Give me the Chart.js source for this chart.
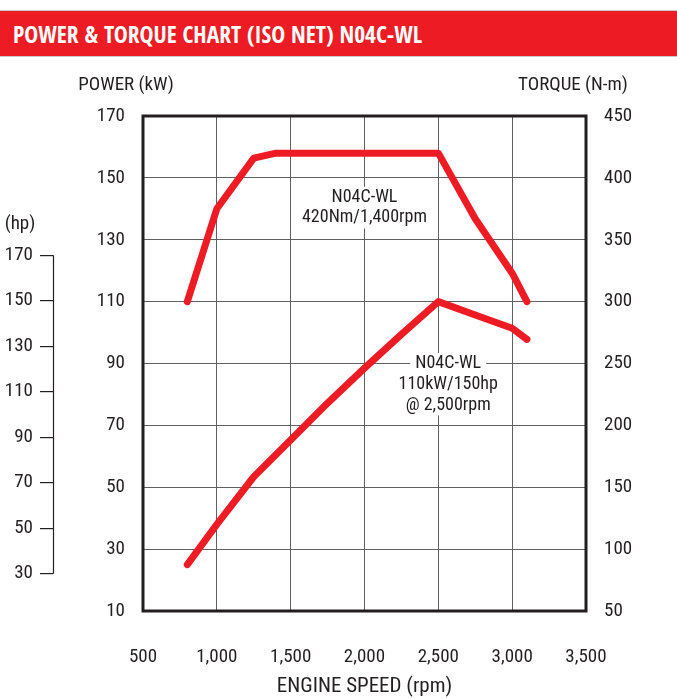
<!DOCTYPE html>
<html>
<head>
<meta charset="utf-8">
<script src="https://cdn.jsdelivr.net/npm/chart.js@4/dist/chart.umd.min.js"></script>
<style>
  html, body { margin: 0; padding: 0; background: #fff; }
  #wrap { position: relative; width: 677px; height: 699px; overflow: hidden; }
  #chart { position: absolute; left: 0; top: 0; }
  #header {
    position: absolute; left: 0; top: 10px; width: 677px; height: 47px;
    background: #ed1c24; border-top: 1px solid #c9c9c9; border-bottom: 1px solid #c9c9c9;
    color: #fff; font-family: 'Open Sans Condensed', 'Open Sans', sans-serif; font-stretch: 75%;
    font-weight: bold; font-size: 23.5px; line-height: 46px; padding-left: 13px; box-sizing: border-box;
    white-space: nowrap; z-index: 2;
  }
</style>
</head>
<body>
<div id="wrap">
  <canvas id="chart" width="677" height="699"></canvas>
  <div id="header">POWER &amp; TORQUE CHART (ISO NET) N04C-WL</div>
</div>
<script>
// ---- data ----
const torqueRpm = [800, 1000, 1250, 1400, 2500, 2750, 3000, 3100];
const torqueNm  = [300, 375, 416, 420, 420, 367, 323, 300];

const powerRpm = [800, 1000, 1250, 1500, 1750, 2000, 2250, 2500, 2750, 3000, 3100];
const powerKw  = [25, 38, 53.4, 65.3, 77.2, 88.5, 99.4, 110, 105.7, 101.4, 97.8];

const rpmTicks    = [500, 1000, 1500, 2000, 2500, 3000, 3500];
const kwTicks     = [10, 30, 50, 70, 90, 110, 130, 150, 170];
const torqueTicks = [50, 100, 150, 200, 250, 300, 350, 400, 450];
const hpTicks     = [30, 50, 70, 90, 110, 130, 150, 170];
const KW_TO_HP = 1.36;

const torqueNote = { rpm: 2000, nm: 376, lines: ['N04C-WL', '420Nm/1,400rpm'] };
const powerNote  = { rpm: 2567, kw: 83.3, lines: ['N04C-WL', '110kW/150hp', '@ 2,500rpm'] };

// ---- styles ----
const FONT = "'Roboto Condensed', 'Liberation Sans', sans-serif";
const TXT = '#231f20';
const RED = '#ed1c24';
const GRID = '#5f6062';

const toXY = (xs, ys) => xs.map((x, i) => ({ x: x, y: ys[i] }));
const fixTicks = arr => (s => { s.ticks = arr.map(v => ({ value: v })); });

const decor = {
  id: 'decor',
  afterDatasetsDraw(chart) {
    const { ctx, chartArea: a, scales } = chart;
    ctx.save();
    // plot frame
    ctx.strokeStyle = TXT; ctx.lineWidth = 3;
    ctx.strokeRect(a.left, a.top, a.right - a.left, a.bottom - a.top);
    // hp axis spine (only between first and last tick)
    const hp = scales.hp;
    ctx.lineWidth = 1.2;
    ctx.beginPath();
    const hx = Math.round(hp.right) + 0.5;
    ctx.moveTo(hx, hp.getPixelForValue(hpTicks[0]));
    ctx.lineTo(hx, hp.getPixelForValue(hpTicks[hpTicks.length - 1]));
    ctx.stroke();
    // axis titles
    ctx.fillStyle = TXT;
    ctx.textBaseline = 'middle';
    ctx.textAlign = 'center';
    ctx.font = '19px ' + FONT;
    ctx.fillText('POWER (kW)', scales.y.right - 17, a.top - 31);
    ctx.fillText('TORQUE (N-m)', scales.torque.left - 13, a.top - 31);
    ctx.fillText('(hp)', 20, hp.getPixelForValue(hpTicks[hpTicks.length - 1]) - 31);
    // notes
    const note = (x, yc, lines) => {
      ctx.font = '18px ' + FONT;
      const lh = 20.8;
      const y0 = yc - (lines.length - 1) * lh / 2;
      lines.forEach((t, i) => {
        const w = ctx.measureText(t).width;
        ctx.fillStyle = '#fff';
        ctx.fillRect(x - w / 2 - 5, y0 + i * lh - lh / 2, w + 10, lh);
      });
      ctx.fillStyle = TXT;
      lines.forEach((t, i) => ctx.fillText(t, x, y0 + i * lh));
    };
    note(scales.x.getPixelForValue(torqueNote.rpm), scales.torque.getPixelForValue(torqueNote.nm), torqueNote.lines);
    note(scales.x.getPixelForValue(powerNote.rpm), scales.y.getPixelForValue(powerNote.kw), powerNote.lines);
    ctx.restore();
  }
};

const tickFont = { family: FONT, size: 19 };

new Chart(document.getElementById('chart'), {
  type: 'line',
  data: {
    datasets: [
      { label: 'Torque (N-m)', data: toXY(torqueRpm, torqueNm), yAxisID: 'torque',
        borderColor: RED, borderWidth: 7, pointRadius: 0, tension: 0,
        borderJoinStyle: 'round', borderCapStyle: 'round', fill: false },
      { label: 'Power (kW)', data: toXY(powerRpm, powerKw), yAxisID: 'y',
        borderColor: RED, borderWidth: 7, pointRadius: 0, tension: 0,
        borderJoinStyle: 'round', borderCapStyle: 'round', fill: false }
    ]
  },
  options: {
    responsive: false, animation: false, devicePixelRatio: 1,
    layout: { padding: { top: 116, left: 0, right: 0, bottom: 0 } },
    plugins: { legend: { display: false }, tooltip: { enabled: false } },
    scales: {
      x: {
        type: 'linear', position: 'bottom', min: 500, max: 3500,
        afterBuildTicks: fixTicks(rpmTicks),
        ticks: { font: tickFont, color: TXT, padding: 35, maxRotation: 0,
                 callback: v => v.toLocaleString('en-US') },
        grid: { color: GRID, lineWidth: 1, drawTicks: false },
        border: { display: false },
        title: { display: true, text: 'ENGINE SPEED (rpm)', color: TXT,
                 font: { family: FONT, size: 21 }, padding: { top: 0, bottom: 0 } },
        afterFit: s => { s.height = 88; }
      },
      y: {
        type: 'linear', position: 'left', min: 10, max: 170, weight: 0,
        afterBuildTicks: fixTicks(kwTicks),
        ticks: { font: tickFont, color: TXT, padding: 18 },
        grid: { color: GRID, lineWidth: 1, drawTicks: false },
        border: { display: false },
        afterFit: s => { s.width = 90; }
      },
      hp: {
        type: 'linear', position: 'left', min: 10 * KW_TO_HP, max: 170 * KW_TO_HP, weight: 1,
        afterBuildTicks: fixTicks(hpTicks),
        ticks: { font: tickFont, color: TXT, padding: 7 },
        grid: { drawOnChartArea: false, drawTicks: true, tickLength: 13, color: TXT, lineWidth: 1.2 },
        border: { display: false },
        afterFit: s => { s.width = 53; }
      },
      torque: {
        type: 'linear', position: 'right', min: 50, max: 450,
        afterBuildTicks: fixTicks(torqueTicks),
        ticks: { font: tickFont, color: TXT, padding: 18 },
        grid: { display: false, drawTicks: false },
        border: { display: false },
        afterFit: s => { s.width = 91; }
      }
    }
  },
  plugins: [decor]
});
</script>
</body>
</html>
